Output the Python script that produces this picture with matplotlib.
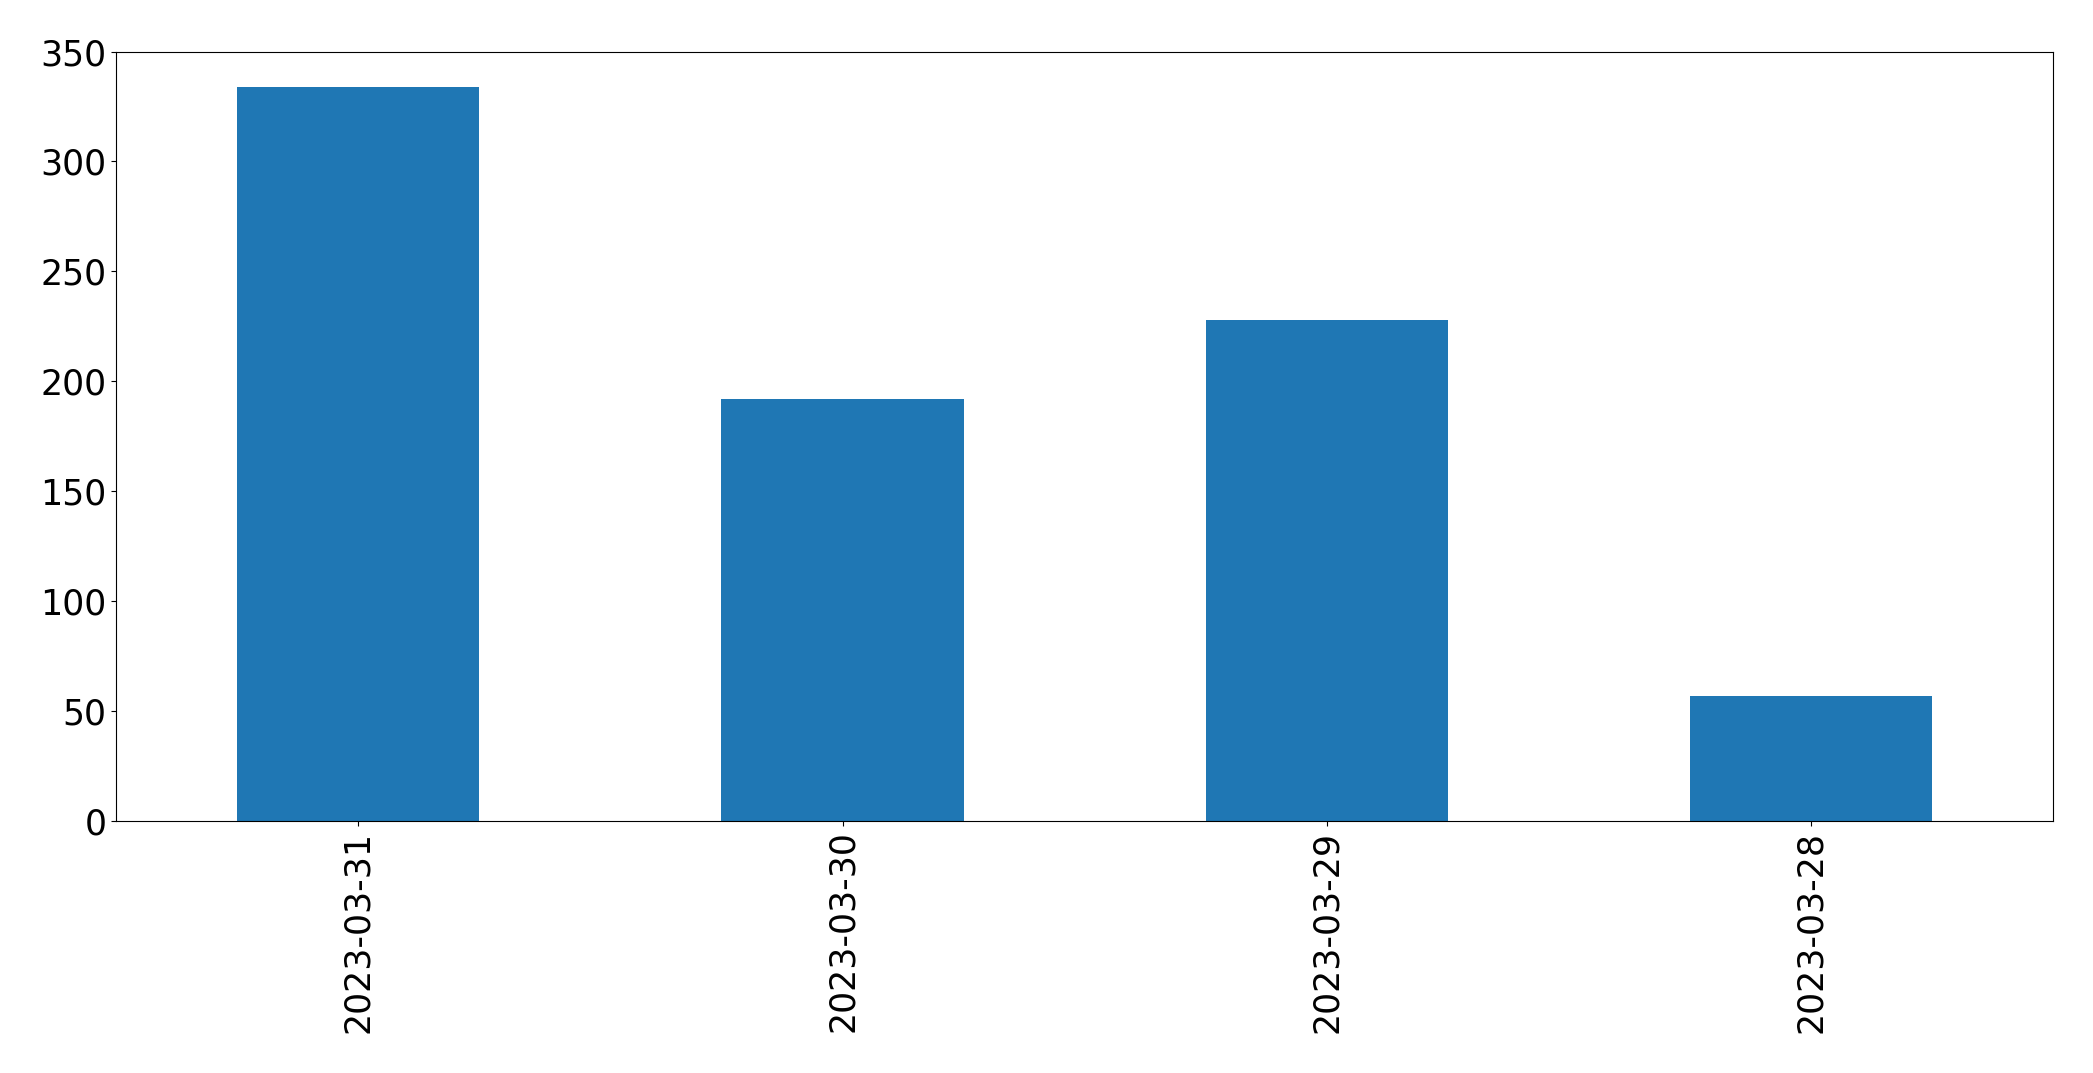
import matplotlib
matplotlib.use('Agg')
import matplotlib.pyplot as plt

dates = ['2023-03-31', '2023-03-30', '2023-03-29', '2023-03-28']
counts = [334, 192, 228, 57]

fig, ax = plt.subplots(figsize=(20.93, 10.73), dpi=100)
ax.bar(range(len(dates)), counts, width=0.5, color='#1f77b4')
ax.set_xlim(-0.5, len(dates) - 0.5)
ax.set_ylim(0, 350)
ax.set_xticks(range(len(dates)))
ax.set_xticklabels(dates, rotation=90)
ax.tick_params(labelsize=25)
fig.subplots_adjust(left=0.0555, right=0.981, top=0.952, bottom=0.235)
fig.savefig('out.png', dpi=100)
